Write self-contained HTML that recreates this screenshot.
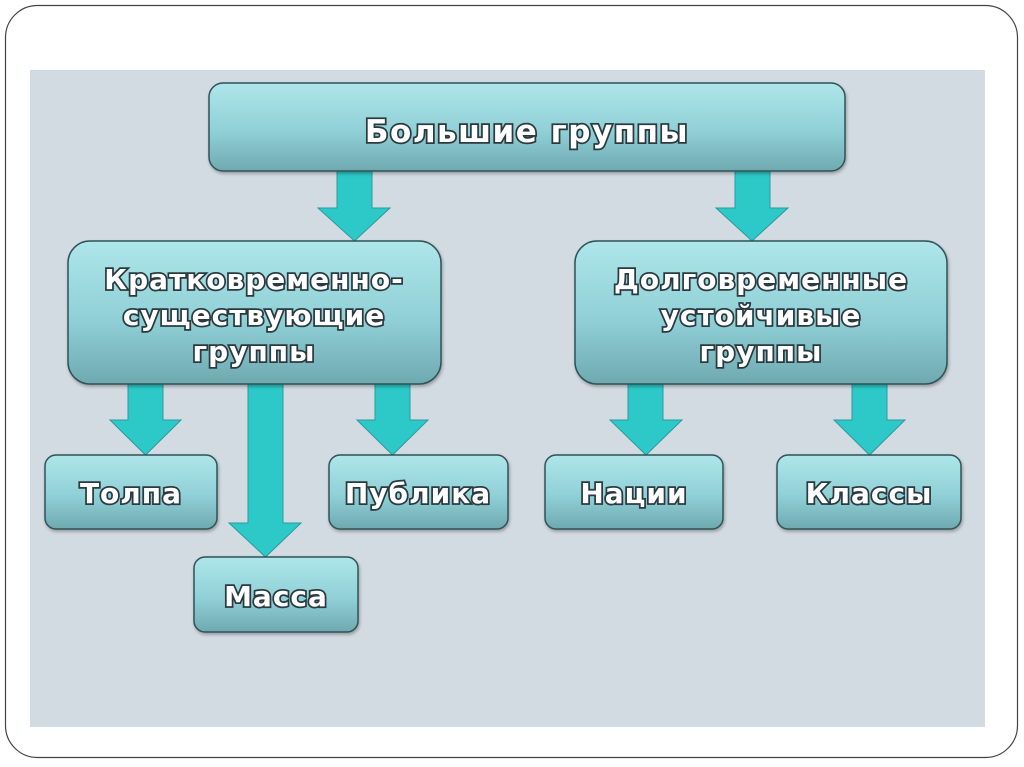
<!DOCTYPE html>
<html><head><meta charset="utf-8"><style>
html,body{margin:0;padding:0;background:#fff;width:1024px;height:767px;overflow:hidden}
text{font-family:"DejaVu Sans","Liberation Sans",sans-serif;font-weight:bold;fill:#fff;stroke:#2a3a40;stroke-width:3.5px;paint-order:stroke;text-anchor:middle;letter-spacing:1px}
</style></head><body>
<svg width="1024" height="767" viewBox="0 0 1024 767" xmlns="http://www.w3.org/2000/svg">
<defs>
<linearGradient id="g" x1="0" y1="0" x2="0" y2="1">
<stop offset="0" stop-color="#aee6ea"/><stop offset="0.55" stop-color="#8fd0d6"/><stop offset="1" stop-color="#6fa9b0"/>
</linearGradient>
<filter id="s" x="-10%" y="-10%" width="120%" height="130%"><feDropShadow dx="1" dy="2" stdDeviation="1.5" flood-color="#000" flood-opacity="0.3"/></filter>
</defs>
<rect x="5.5" y="5.5" width="1012" height="752" rx="32" fill="#fff" stroke="#444" stroke-width="1.2"/>
<rect x="30" y="70" width="955" height="657" fill="#d3dbe2"/>
<g fill="#2dc9c9" stroke="#2a9a9c" stroke-width="1">
<polygon points="337,171 372,171 372,208 390,208 354.5,241 318,208 337,208"/>
<polygon points="735,171 770,171 770,208 788,208 752,241 716,208 735,208"/>
<polygon points="128,384 163,384 163,420 181,420 145.5,455 110,420 128,420"/>
<polygon points="248,384 283,384 283,523 301,523 265.5,557 229,523 248,523"/>
<polygon points="375,384 410,384 410,420 428,420 392.5,455 357,420 375,420"/>
<polygon points="628,384 663,384 663,420 682,420 646,455 610,420 628,420"/>
<polygon points="852,384 887,384 887,420 905,420 869.5,455 834,420 852,420"/>
</g>
<g fill="url(#g)" stroke="#2e5258" stroke-width="1.5" filter="url(#s)">
<rect x="209" y="83" width="636" height="88" rx="14"/>
<rect x="68" y="241" width="373" height="143" rx="22"/>
<rect x="575" y="241" width="372" height="143" rx="22"/>
<rect x="45" y="455" width="172" height="74" rx="11"/>
<rect x="329" y="455" width="179" height="74" rx="11"/>
<rect x="194" y="557" width="164" height="75" rx="11"/>
<rect x="545" y="455" width="178" height="74" rx="11"/>
<rect x="777" y="455" width="184" height="74" rx="11"/>
</g>
<text x="527" y="142" font-size="31" style="letter-spacing:1.5px">Большие группы</text>
<g font-size="28">
<text x="254" y="289">Кратковременно-</text>
<text x="254" y="325">существующие</text>
<text x="254" y="361">группы</text>
<text x="761" y="289">Долговременные</text>
<text x="761" y="325">устойчивые</text>
<text x="761" y="361">группы</text>
<text x="131" y="503">Толпа</text>
<text x="418" y="503">Публика</text>
<text x="276" y="606">Масса</text>
<text x="634" y="503">Нации</text>
<text x="869" y="503">Классы</text>
</g>
</svg>
</body></html>
